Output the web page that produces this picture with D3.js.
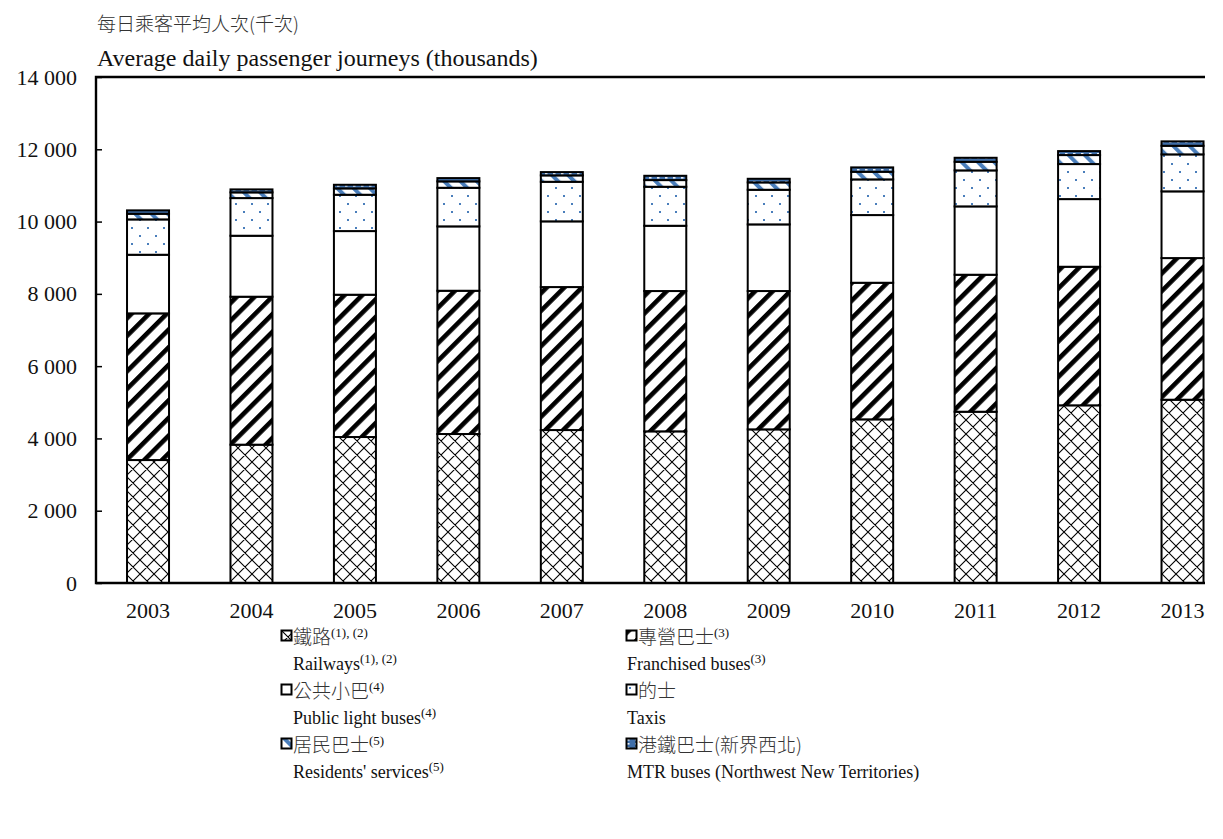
<!DOCTYPE html>
<html>
<head>
<meta charset="utf-8">
<script src="https://cdn.jsdelivr.net/npm/d3@7"></script>
<style>
  html, body { margin: 0; padding: 0; background: #fff; }
  svg { display: block; }
  .serif { font-family: "Liberation Serif", "Times New Roman", serif; }
  .cjk { font-family: "Noto Sans CJK TC", "Noto Sans CJK SC", sans-serif; font-weight: 300; }
</style>
</head>
<body>
<svg id="chart" width="1223" height="839"></svg>
<script>
const years = ["2003","2004","2005","2006","2007","2008","2009","2010","2011","2012","2013"];
const railways   = [3402, 3827, 4039, 4122, 4232, 4196, 4251, 4528, 4739, 4916, 5071];
const franchised = [4058, 4094, 3937, 3964, 3956, 3882, 3827, 3779, 3790, 3834, 3919];
const lightBuses = [1622, 1687, 1761, 1781, 1818, 1806, 1844, 1873, 1891, 1872, 1846];
const taxis      = [978, 1042, 1005, 1068, 1095, 1079, 958, 987, 996, 969, 1023];
const residents  = [156, 158, 176, 177, 177, 185, 204, 211, 238, 249, 238];
const mtrBuses   = [94, 82, 100, 91, 91, 119, 100, 121, 111, 110, 122];
const yTicks = [0, 2000, 4000, 6000, 8000, 10000, 12000, 14000];
const seriesKeys = ["railways","franchised","lightBuses","taxis","residents","mtrBuses"];
const seriesArrays = [railways, franchised, lightBuses, taxis, residents, mtrBuses];
const titleZh = "每日乘客平均人次(千次)";
const titleEn = "Average daily passenger journeys (thousands)";
const legendItems = [
  {key:"railways",   zh:"鐵路", zhSup:"(1), (2)", en:"Railways", enSup:"(1), (2)"},
  {key:"franchised", zh:"專營巴士", zhSup:"(3)", en:"Franchised buses", enSup:"(3)"},
  {key:"lightBuses", zh:"公共小巴", zhSup:"(4)", en:"Public light buses", enSup:"(4)"},
  {key:"taxis",      zh:"的士", zhSup:"", en:"Taxis", enSup:""},
  {key:"residents",  zh:"居民巴士", zhSup:"(5)", en:"Residents' services", enSup:"(5)"},
  {key:"mtrBuses",   zh:"港鐵巴士(新界西北)", zhSup:"", en:"MTR buses (Northwest New Territories)", enSup:""}
];

(function () {
const svg = d3.select("#chart");
const pLeft = 96, pRight = 1205, pTop = 77, pBottom = 583;

const y = d3.scaleLinear().domain([0, 14000]).range([pBottom, pTop]);
const step = 103.45;
const x = d3.scaleBand().domain(years).range([96.3, 96.3 + step * years.length])
  .paddingInner(0.594).paddingOuter(0.297);

// patterns
const defs = svg.append("defs");
const blue = "#4a7ebb";
function pat(id, w, h, transform) {
  const p = defs.append("pattern").attr("id", id).attr("patternUnits","userSpaceOnUse")
    .attr("width", w).attr("height", h);
  if (transform) p.attr("patternTransform", transform);
  p.append("rect").attr("width", w).attr("height", h).attr("fill", "#fff");
  return p;
}
let p = pat("p-rail", 14, 14);
p.append("path").attr("d","M0,0L14,14M14,0L0,14M-1,13L1,15M13,-1L15,1M13,15L15,13M-1,1L1,-1")
  .attr("stroke","#000").attr("stroke-width",1.1).attr("fill","none");
p = pat("p-fb", 12.5, 10, "rotate(45)");
p.append("rect").attr("x",0).attr("width",4.6).attr("height",10).attr("fill","#000");
p = pat("p-taxi", 16, 16);
p.append("rect").attr("x",3).attr("y",3).attr("width",2).attr("height",2).attr("fill",blue);
p.append("rect").attr("x",11).attr("y",11).attr("width",2).attr("height",2).attr("fill",blue);
p = pat("p-res", 11.5, 10, "rotate(-45)");
p.append("rect").attr("x",0).attr("width",4).attr("height",10).attr("fill",blue);
p = defs.append("pattern").attr("id","p-mtr").attr("patternUnits","userSpaceOnUse").attr("width",8).attr("height",4);
p.append("rect").attr("width",8).attr("height",4).attr("fill","#3f6ea9");
p.append("rect").attr("x",1).attr("y",1).attr("width",2.5).attr("height",1.6).attr("fill","#e8eef6");
const fills = {railways:"url(#p-rail)", franchised:"url(#p-fb)", lightBuses:"#fff", taxis:"url(#p-taxi)", residents:"url(#p-res)", mtrBuses:"url(#p-mtr)"};

// data rows
const rows = years.map((yr, i) => {
  const r = {year: yr};
  seriesKeys.forEach((k, j) => r[k] = seriesArrays[j][i]);
  return r;
});
const stacked = d3.stack().keys(seriesKeys)(rows);

// bars
const g = svg.append("g");
stacked.forEach(layer => {
  g.selectAll(null).data(layer).enter().append("rect")
    .attr("x", d => x(d.data.year))
    .attr("width", x.bandwidth())
    .attr("y", d => y(d[1]))
    .attr("height", d => y(d[0]) - y(d[1]))
    .attr("fill", fills[layer.key])
    .attr("stroke", "#000")
    .attr("stroke-width", 2);
});

// frame
svg.append("path")
  .attr("d", `M${pRight},${pTop}H${pLeft}V${pBottom}H${pRight}`)
  .attr("fill","none").attr("stroke","#000").attr("stroke-width",2.4);

// y axis
const fmt = d3.formatLocale({decimal:".", thousands:" ", grouping:[3], currency:["",""]}).format(",");
const yAxis = svg.append("g").attr("transform", `translate(${pLeft},0)`)
  .call(d3.axisLeft(y).tickValues(yTicks).tickFormat(fmt).tickSize(-6).tickPadding(19));
yAxis.select(".domain").remove();
yAxis.attr("font-family", null).attr("font-size", null);
yAxis.selectAll(".tick line").attr("stroke","#000").attr("stroke-width",1.5);
yAxis.selectAll("text").attr("class","serif").style("font-size","22px").attr("fill","#111");

// x axis labels
const xAxis = svg.append("g").attr("transform", `translate(0,${pBottom})`)
  .call(d3.axisBottom(x).tickSize(0).tickPadding(19));
xAxis.select(".domain").remove();
xAxis.attr("font-family", null).attr("font-size", null);
xAxis.selectAll("text").attr("class","serif").style("font-size","22px").attr("fill","#111");

// titles
svg.append("text").attr("class","cjk").attr("x", 97).attr("y", 31)
  .style("font-size","19px").attr("fill","#333").text(titleZh);
svg.append("text").attr("class","serif").attr("x", 97).attr("y", 66)
  .style("font-size","24px").attr("fill","#111").text(titleEn);

// legend
const colX = [281, 626];
const enX = [12, 1];
const rowY = [630, 684, 738];
legendItems.forEach((it, i) => {
  const col = i % 2;
  const cx = colX[col], ry = rowY[Math.floor(i / 2)];
  const lg = svg.append("g").attr("transform", `translate(${cx},${ry})`);
  lg.append("rect").attr("x", 0.5).attr("y", 0.5).attr("width", 10).attr("height", 10)
    .attr("fill", fills[it.key]).attr("stroke", "#000").attr("stroke-width", 2);
  const t1 = lg.append("text").attr("x", 12).attr("y", 14).attr("fill", "#333");
  t1.append("tspan").attr("class","cjk").style("font-size","19px").text(it.zh);
  if (it.zhSup) t1.append("tspan").attr("class","serif").style("font-size","13px").attr("dy", -7).attr("fill","#111").text(it.zhSup);
  const t2 = lg.append("text").attr("x", enX[col]).attr("y", 40).attr("fill", "#111");
  t2.append("tspan").attr("class","serif").style("font-size","18px").text(it.en);
  if (it.enSup) t2.append("tspan").attr("class","serif").style("font-size","13px").attr("dy", -7).text(it.enSup);
});
})();
</script>
</body>
</html>
